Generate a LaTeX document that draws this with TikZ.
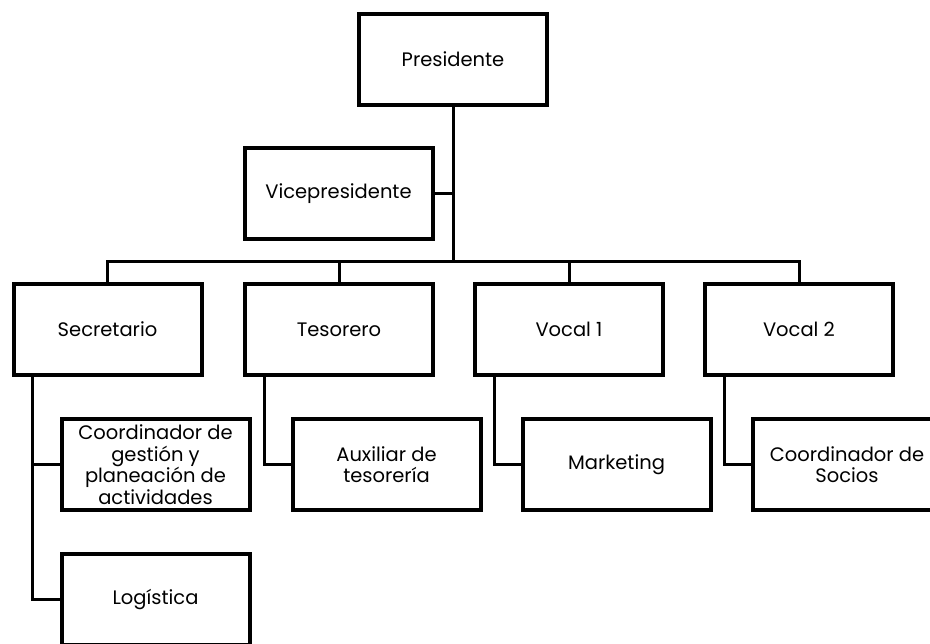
\documentclass[tikz,border=0pt]{standalone}
\usepackage{fontspec}
\setmainfont{Poppins}
\begin{document}
\begin{tikzpicture}[x=1pt,y=-1pt,
  box/.style={draw=black, line width=4pt, fill=white, minimum width=188pt, minimum height=91pt, inner sep=0pt, align=center, font=\fontsize{19.5}{21.5}\selectfont},
  con/.style={draw=black, line width=3pt}]
\useasboundingbox (0,0) rectangle (930,644);
\fill[white] (0,0) rectangle (930,644);
\node[box] (pres) at (453,59.5) {Presidente};
\node[box] (vice) at (338.5,194) {Vicepresidente};
\node[box] (sec) at (107.5,329.5) {Secretario};
\node[box] (tes) at (339,329.5) {Tesorero};
\node[box] (v1) at (569,329.5) {Vocal 1};
\node[box] (v2) at (799,329.5) {Vocal 2};
\node[box] (cg) at (155.5,464.5) {Coordinador de\\gestión y\\planeación de\\actividades};
\node[box] (log) at (155.5,599.5) {Logística};
\node[box] (aux) at (386.5,464.5) {Auxiliar de\\tesorería};
\node[box] (mkt) at (616.5,464.5) {Marketing};
\node[box] (cs) at (847,464.5) {Coordinador de\\Socios};
\coordinate (bus) at (453,262);
\draw[con] (pres.south) -- (bus);
\draw[con] (vice.east) -- (vice.east -| bus);
\draw[con] (sec.north) -- (sec.north |- bus) -- (v2.north |- bus) -- (v2.north);
\draw[con] (tes.north) -- (tes.north |- bus);
\draw[con] (v1.north) -- (v1.north |- bus);
\coordinate (sx) at ([xshift=21pt]sec.south west);
\coordinate (tx) at ([xshift=21pt]tes.south west);
\coordinate (vx) at ([xshift=21pt]v1.south west);
\coordinate (wx) at ([xshift=21pt]v2.south west);
\draw[con] (sx) |- (cg.west);
\draw[con] (sx) |- (log.west);
\draw[con] (tx) |- (aux.west);
\draw[con] (vx) |- (mkt.west);
\draw[con] (wx) |- (cs.west);
\end{tikzpicture}
\end{document}
